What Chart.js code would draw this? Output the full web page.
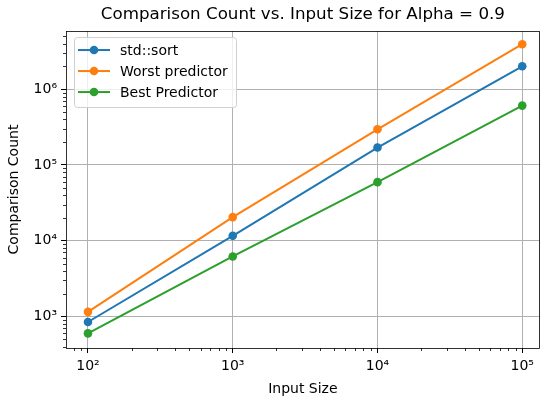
<!DOCTYPE html>
<html>
<head>
<meta charset="utf-8">
<script src="https://cdn.jsdelivr.net/npm/chart.js@4"></script>
<style>
  html, body { margin: 0; padding: 0; background: #fff; }
  #wrap { width: 544px; height: 396px; }
</style>
</head>
<body>
<div id="wrap"><canvas id="chart" width="544" height="396"></canvas></div>
<script>
const inputSizes = [100, 1000, 10000, 100000];
const stdSort = [844, 11600, 170000, 2010000];
const worstPredictor = [1150, 20500, 296000, 3930000];
const bestPredictor = [597, 6190, 59300, 608000];

const xTickValues = [100, 1000, 10000, 100000];
const xTickLabels = ['10²', '10³', '10⁴', '10⁵'];
const yTickValues = [1000, 10000, 100000, 1000000];
const yTickLabels = ['10³', '10⁴', '10⁵', '10⁶'];

const FONT = "'DejaVu Sans', sans-serif";

function toPoints(ys) {
  return inputSizes.map((x, i) => ({ x: x, y: ys[i] }));
}

function makeSet(label, ys, color) {
  return {
    label: label,
    data: toPoints(ys),
    borderColor: color,
    backgroundColor: color,
    borderWidth: 2,
    pointRadius: 4.3,
    pointHoverRadius: 4.3,
    pointBorderWidth: 0,
    tension: 0
  };
}

// minor ticks, frame and legend like matplotlib
const extrasPlugin = {
  id: 'extras',
  afterDatasetsDraw(chart) {
    const ctx = chart.ctx;
    const area = chart.chartArea;
    const xs = chart.scales.x, ys = chart.scales.y;
    ctx.save();
    ctx.strokeStyle = '#000';
    ctx.lineWidth = 0.8;
    // minor ticks
    for (let e = 1; e <= 6; e++) {
      for (let k = 2; k <= 9; k++) {
        const v = k * Math.pow(10, e);
        if (v > xs.min && v < xs.max) {
          const px = Math.round(xs.getPixelForValue(v)) + 0.5;
          ctx.beginPath();
          ctx.moveTo(px, area.bottom);
          ctx.lineTo(px, area.bottom + 3);
          ctx.stroke();
        }
        if (v > ys.min && v < ys.max) {
          const py = Math.round(ys.getPixelForValue(v)) + 0.5;
          ctx.beginPath();
          ctx.moveTo(area.left, py);
          ctx.lineTo(area.left - 3, py);
          ctx.stroke();
        }
      }
    }
    // frame
    ctx.strokeRect(Math.round(area.left) + 0.5, Math.round(area.top) + 0.5,
      Math.round(area.right - area.left) - 1, Math.round(area.bottom - area.top));

    // legend
    const bx = area.left + 8, by = area.top + 6, bw = 162, bh = 70;
    ctx.fillStyle = 'rgba(255,255,255,0.8)';
    ctx.strokeStyle = '#d0d0d0';
    ctx.lineWidth = 1;
    ctx.beginPath();
    ctx.roundRect(bx + 0.5, by + 0.5, bw, bh, 3);
    ctx.fill();
    ctx.stroke();
    ctx.font = '14px ' + FONT;
    ctx.textBaseline = 'middle';
    chart.data.datasets.forEach((ds, i) => {
      const cy = by + 13 + i * 21;
      ctx.strokeStyle = ds.borderColor;
      ctx.lineWidth = 2;
      ctx.beginPath();
      ctx.moveTo(bx + 4, cy);
      ctx.lineTo(bx + 36, cy);
      ctx.stroke();
      ctx.fillStyle = ds.borderColor;
      ctx.beginPath();
      ctx.arc(bx + 20, cy, 4.3, 0, Math.PI * 2);
      ctx.fill();
      ctx.fillStyle = '#000';
      ctx.fillText(ds.label, bx + 46, cy + 1);
    });
    ctx.restore();
  }
};

new Chart(document.getElementById('chart'), {
  type: 'line',
  data: {
    datasets: [
      makeSet('std::sort', stdSort, '#1f77b4'),
      makeSet('Worst predictor', worstPredictor, '#ff7f0e'),
      makeSet('Best Predictor', bestPredictor, '#2ca02c')
    ]
  },
  options: {
    responsive: false,
    animation: false,
    layout: { padding: { left: 0, right: 1, top: 0, bottom: 0 } },
    plugins: {
      legend: { display: false },
      tooltip: { enabled: false },
      title: {
        display: true,
        fullSize: false,
        text: 'Comparison Count vs. Input Size for Alpha = 0.9',
        color: '#000',
        font: { family: FONT, size: 16.7, weight: 'normal' },
        padding: { top: 5, bottom: 6 }
      }
    },
    scales: {
      x: {
        type: 'logarithmic',
        min: 70.5,
        max: 132000,
        afterBuildTicks: s => { s.ticks = xTickValues.map(v => ({ value: v })); },
        afterFit: s => { s.height = 48; },
        ticks: {
          autoSkip: false,
          maxRotation: 0,
          color: '#000',
          padding: 5,
          font: { family: FONT, size: 14 },
          callback: v => xTickLabels[xTickValues.indexOf(v)] || ''
        },
        grid: { color: '#b0b0b0', lineWidth: 1, tickLength: 5, tickColor: '#000' },
        border: { display: false },
        title: {
          display: true,
          text: 'Input Size',
          color: '#000',
          font: { family: FONT, size: 14 },
          padding: { top: 0, bottom: -2 }
        }
      },
      y: {
        type: 'logarithmic',
        min: 383,
        max: 5870000,
        afterBuildTicks: s => { s.ticks = yTickValues.map(v => ({ value: v })); },
        afterFit: s => { s.width = 66; },
        ticks: {
          autoSkip: false,
          color: '#000',
          padding: 4,
          font: { family: FONT, size: 14 },
          callback: v => yTickLabels[yTickValues.indexOf(v)] || ''
        },
        grid: { color: '#b0b0b0', lineWidth: 1, tickLength: 5, tickColor: '#000' },
        border: { display: false },
        title: {
          display: true,
          text: 'Comparison Count',
          color: '#000',
          font: { family: FONT, size: 14 },
          padding: { top: 6, bottom: 4 }
        }
      }
    }
  },
  plugins: [extrasPlugin]
});
</script>
</body>
</html>
